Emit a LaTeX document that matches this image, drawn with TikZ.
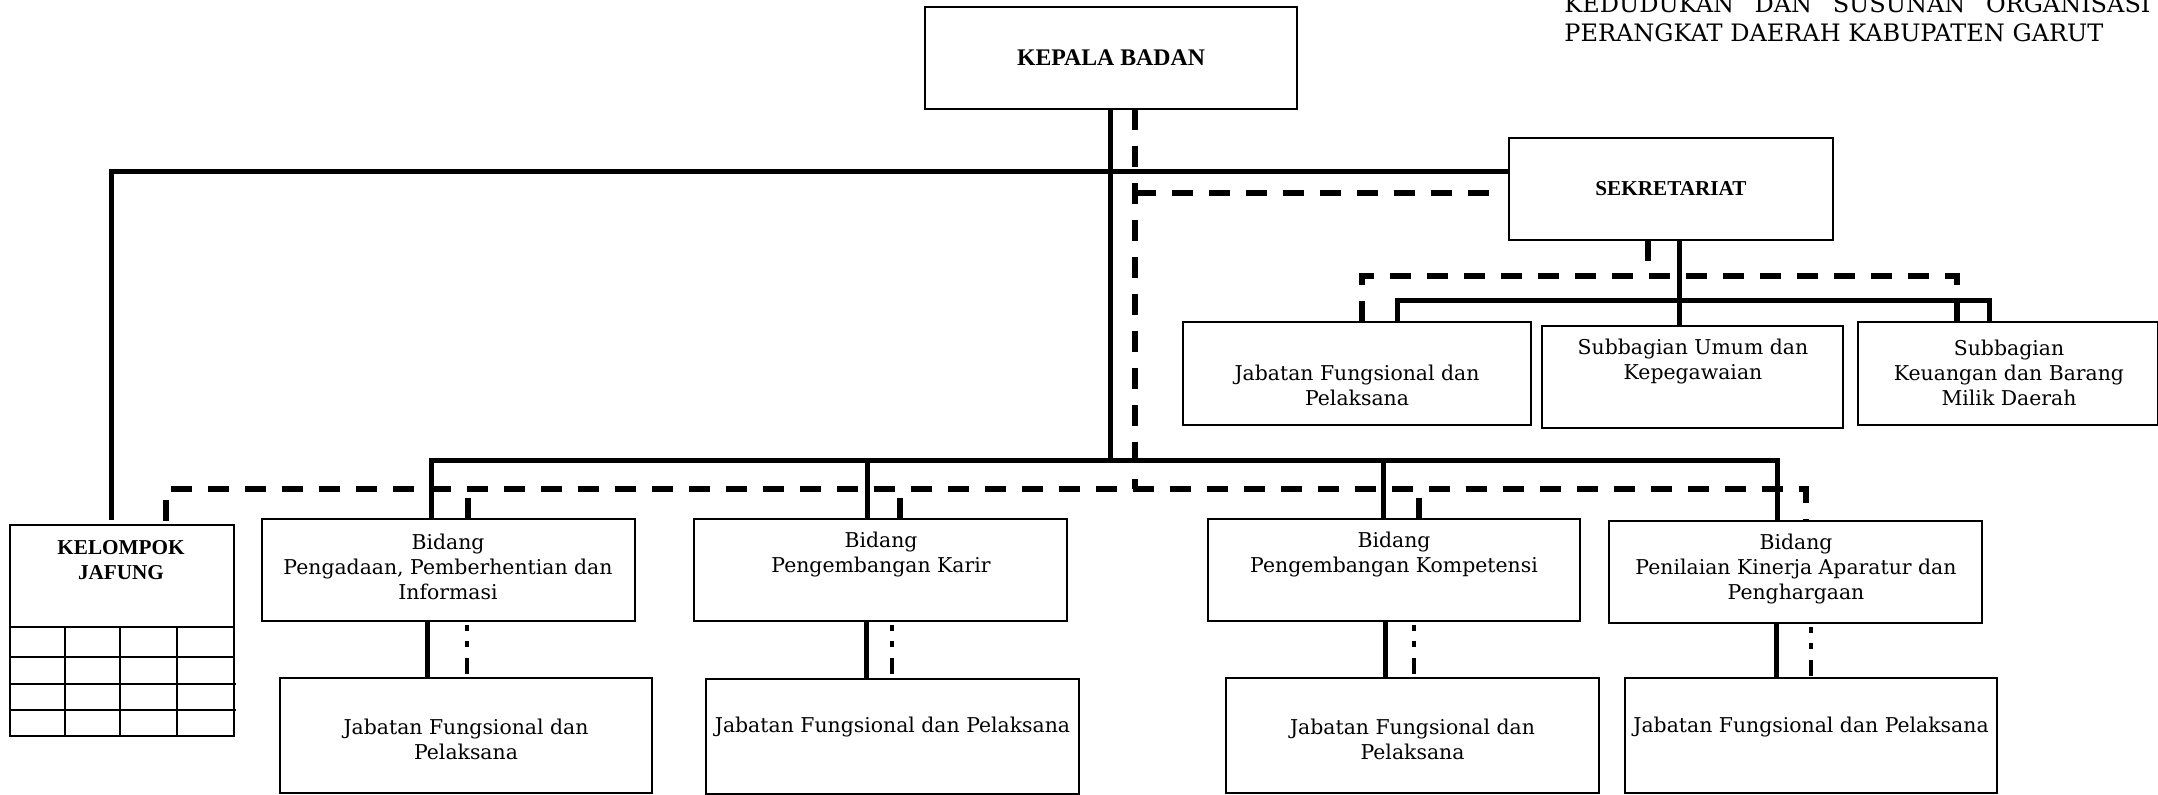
\documentclass[tikz,border=0pt]{standalone}
\usepackage{fontspec}
\setmainfont{DejaVu Serif}
\newfontfamily\headfont{Liberation Serif}
\begin{document}
\begin{tikzpicture}[x=0.5pt,y=-0.5pt,
  box/.style={draw, line width=0.8pt, inner sep=0pt, outer sep=0pt, align=center},
  lbl/.style={align=center, inner sep=0pt, font=\fontsize{10.2}{12.5}\selectfont},
  head/.style={align=center, inner sep=0pt, font=\headfont\bfseries\fontsize{10.6}{12.5}\selectfont},
  titletext/.style={anchor=base west, inner sep=0pt, font=\fontsize{12}{14.5}\selectfont},
  gridline/.style={line width=0.8pt},
  conn/.style={line width=2.5pt, line join=miter},
  dconn/.style={line width=2.7pt, dash pattern=on 10.5pt off 8pt},
  dotconn/.style={line width=1.75pt, dash pattern=on 3pt off 5pt on 3pt off 5.5pt on 8pt off 40pt}]
\useasboundingbox (0,0) rectangle (2158,795);

% heading at the top right
\node[titletext] (title1) at (1564,13) {\hbox to 293pt{KEDUDUKAN\hfill DAN\hfill SUSUNAN\hfill ORGANISASI}};
\node[titletext] (title2) at (1564,42) {PERANGKAT DAERAH KABUPATEN GARUT};

% head and secretariat
\node[box, minimum width=186pt, minimum height=51pt,
      font=\headfont\bfseries\fontsize{11.9}{14}\selectfont] (kepala) at (1111,58) {KEPALA BADAN};
\node[box, minimum width=162pt, minimum height=51pt,
      font=\headfont\bfseries\fontsize{10.6}{12.5}\selectfont] (sek) at (1671,189) {SEKRETARIAT};

% secretariat units
\node[box, minimum width=174pt, minimum height=51.5pt] (sjab) at (1357,373.5) {};
\node[box, minimum width=150.5pt, minimum height=51pt] (sumum) at (1692.5,377) {};
\node[box, minimum width=150pt, minimum height=51.5pt] (skeu) at (2008,373.5) {};
\node[lbl] (sjabT) at (1357,385) {Jabatan Fungsional dan\\Pelaksana};
\node[lbl] (sumumT) at (1693,362) {Subbagian Umum dan\\Kepegawaian};
\node[lbl] (skeuT) at (2009,373) {Subbagian\\Keuangan dan Barang\\Milik Daerah};

% functional group with its table
\node[box, minimum width=112pt, minimum height=105.5pt] (kel) at (122,630.5) {};
\node[head] (kelT) at (121,560) {KELOMPOK\\JAFUNG};
\draw[gridline] (10,627) -- (234,627);
\draw[gridline] (10,657) -- (234,657);
\draw[gridline] (10,684) -- (236,684);
\draw[gridline] (10,710) -- (236,710);
\foreach \gx in {65,120,177} \draw[gridline] (\gx,627) -- (\gx,736);

% divisions
\node[box, minimum width=186.5pt, minimum height=51pt] (b1) at (448.5,570) {};
\node[box, minimum width=186.5pt, minimum height=51pt] (b2) at (880.5,570) {};
\node[box, minimum width=186pt, minimum height=51pt] (b3) at (1394,570) {};
\node[box, minimum width=186.5pt, minimum height=51pt] (b4) at (1795.5,572) {};
\node[lbl] (b1T) at (448,567) {Bidang\\Pengadaan, Pemberhentian dan\\Informasi};
\node[lbl] (b2T) at (881,555) {Bidang\\Pengembangan Karir};
\node[lbl] (b3T) at (1394,555) {Bidang\\Pengembangan Kompetensi};
\node[lbl] (b4T) at (1796,569) {Bidang\\Penilaian Kinerja Aparatur dan\\Penghargaan};

% functional staff under each division
\node[box, minimum width=186pt, minimum height=57.5pt] (j1) at (466,735.5) {};
\node[box, minimum width=186.5pt, minimum height=57.5pt] (j2) at (892.5,736.5) {};
\node[box, minimum width=186.5pt, minimum height=57.5pt] (j3) at (1412.5,735.5) {};
\node[box, minimum width=186pt, minimum height=57.5pt] (j4) at (1811,735.5) {};
\node[lbl] (j1T) at (466,739) {Jabatan Fungsional dan\\Pelaksana};
\node[lbl] (j2T) at (892.5,727) {Jabatan Fungsional dan Pelaksana};
\node[lbl] (j3T) at (1412.5,739) {Jabatan Fungsional dan\\Pelaksana};
\node[lbl] (j4T) at (1811,727) {Jabatan Fungsional dan Pelaksana};

% line of command
\coordinate (hL) at (111,172);
\coordinate (trunk) at (1110,461);
\coordinate (bL) at (431,461);
\coordinate (t2) at (867,461);
\coordinate (t3) at (1383,461);
\coordinate (bR) at (1777,461);
\draw[conn, shorten <=2.5pt] (hL |- kel.north) -- (hL) -- (hL -| sek.west);
\draw[conn] (trunk |- kepala.south) -- (trunk);
\draw[conn] (bL |- b1.north) -- (bL) -- (bR) -- (bR |- b4.north);
\draw[conn] (t2) -- (t2 |- b2.north);
\draw[conn] (t3) -- (t3 |- b3.north);

\coordinate (sL) at (1397,301);
\coordinate (sM) at (1679,301);
\coordinate (sR) at (1989,301);
\draw[conn] (sL |- sjab.north) -- (sL) -- (sR) -- (sR |- skeu.north);
\draw[conn] (sM |- sek.south) -- (sM |- sumum.north);

% line of coordination
\coordinate (dK) at (1135,489);
\coordinate (dS) at (1135,193);
\coordinate (dL) at (166,489);
\coordinate (dR) at (1806,489);
\coordinate (d1) at (468,489);
\coordinate (d2) at (900,489);
\coordinate (d3) at (1419,489);
\draw[dconn] (dK |- kepala.south) -- (dK);
\draw[dconn, shorten >=9pt] (dS) -- (dS -| sek.west);
\draw[dconn, shorten <=2pt] (dL |- kel.north) -- (dL) -- (dR) -- (dR |- b4.north);
\draw[dconn] (d1 |- b1.north) -- (d1);
\draw[dconn] (d2 |- b2.north) -- (d2);
\draw[dconn] (d3 |- b3.north) -- (d3);

\coordinate (sd) at (1648,276);
\coordinate (sdL) at (1362,276);
\coordinate (sdR) at (1957,276);
\draw[dconn] (sd |- sek.south) -- (sd);
\draw[dconn] (sdL |- sjab.north) -- (sdL) -- (sdR) -- (sdR |- skeu.north);

% links from each division to its staff
\coordinate (l1) at (427,650);
\coordinate (l2) at (866,650);
\coordinate (l3) at (1385,650);
\coordinate (l4) at (1776,650);
\coordinate (m1) at (467,650);
\coordinate (m2) at (892,650);
\coordinate (m3) at (1414,650);
\coordinate (m4) at (1811,650);
\draw[conn] (b1.south -| l1) -- (j1.north -| l1);
\draw[conn] (b2.south -| l2) -- (j2.north -| l2);
\draw[conn] (b3.south -| l3) -- (j3.north -| l3);
\draw[conn] (b4.south -| l4) -- (j4.north -| l4);
\draw[dotconn, shorten <=2pt] (b1.south -| m1) -- (j1.north -| m1);
\draw[dotconn, shorten <=2pt] (b2.south -| m2) -- (j2.north -| m2);
\draw[dotconn, shorten <=2pt] (b3.south -| m3) -- (j3.north -| m3);
\draw[dotconn, shorten <=2pt] (b4.south -| m4) -- (j4.north -| m4);
\end{tikzpicture}
\end{document}
